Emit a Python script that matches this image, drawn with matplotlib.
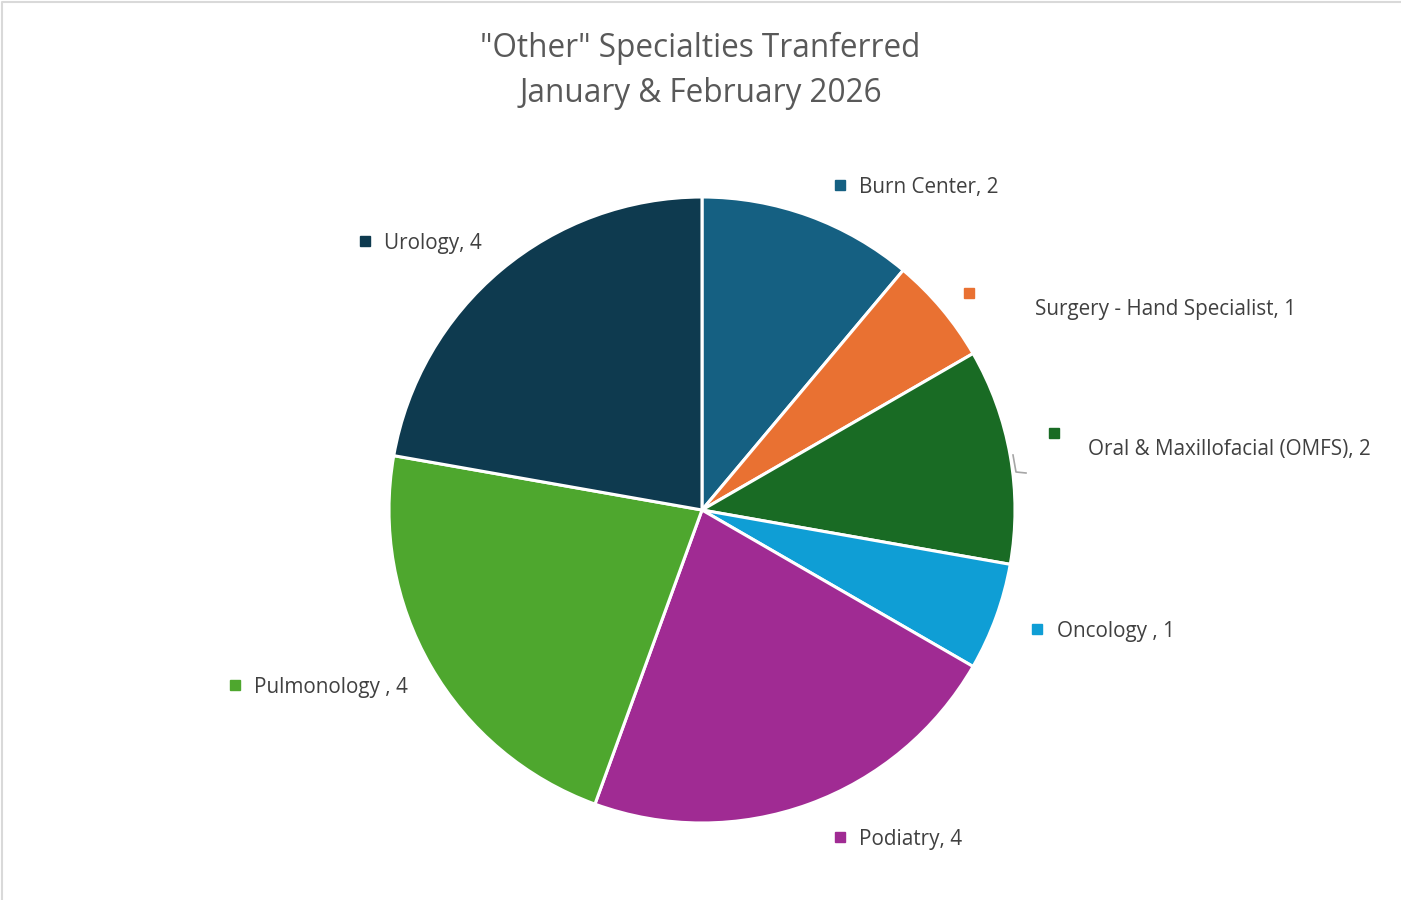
import matplotlib
matplotlib.use("Agg")
import matplotlib.pyplot as plt
from matplotlib.lines import Line2D

# Data
categories = ["Burn Center", "Surgery - Hand Specialist", "Oral & Maxillofacial (OMFS)",
              "Oncology ", "Podiatry", "Pulmonology ", "Urology"]
values = [2, 1, 2, 1, 4, 4, 4]
colors = ["#156082", "#E97132", "#196B24", "#0F9ED5", "#A02B93", "#4EA72E", "#0E3A4F"]
title_lines = ['"Other" Specialties Tranferred', "January & February 2026"]

# Label placement in figure pixels: (marker x, marker y, text x, text y)
label_pos = [
    (840, 185, 859, 187),
    (969, 293, 1035, 310),
    (1054, 433, 1088, 450),
    (1037, 629, 1057, 631),
    (840, 837, 859, 839),
    (235, 685, 254, 687),
    (365, 241, 384, 243),
]

W, H = 1401, 900
plt.rcParams["font.family"] = ["Open Sans", "DejaVu Sans"]
fig = plt.figure(figsize=(W / 100, H / 100), dpi=100)
fig.patch.set_facecolor("white")

cx, cy, r = 702, 510, 313
ax = fig.add_axes([(cx - r) / W, (H - cy - r) / H, 2 * r / W, 2 * r / H])
ax.pie(values, colors=colors, startangle=90, counterclock=False, radius=1.0,
       wedgeprops=dict(edgecolor="white", linewidth=2.2))
ax.set_xlim(-1, 1)
ax.set_ylim(-1, 1)
ax.set_aspect("equal")
ax.axis("off")

def fx(px):
    return px / W

def fy(py):
    return 1 - py / H

fig.text(0.5, fy(48), title_lines[0], ha="center", va="center",
         fontsize=22.7, color="#595959")
fig.text(0.5, fy(93), title_lines[1], ha="center", va="center",
         fontsize=22.7, color="#595959")

for cat, val, col, (mx, my, tx, ty) in zip(categories, values, colors, label_pos):
    fig.add_artist(Line2D([fx(mx)], [fy(my)], marker="s", markersize=6.5,
                          color=col, linestyle="none"))
    fig.text(fx(tx), fy(ty), f"{cat}, {val}", ha="left", va="center",
             fontsize=14.9, color="#404040")

# Leader line for the OMFS label
fig.add_artist(Line2D([fx(1013), fx(1016), fx(1026)], [fy(455), fy(472), fy(473)],
                      color="#A6A6A6", linewidth=1.2))

# Chart frame (top and left edges)
fig.add_artist(Line2D([fx(1.5), fx(1.5), fx(W)], [fy(H), fy(2), fy(2)],
                      color="#D9D9D9", linewidth=1.5))

fig.savefig("out.png", dpi=100, facecolor="white")
